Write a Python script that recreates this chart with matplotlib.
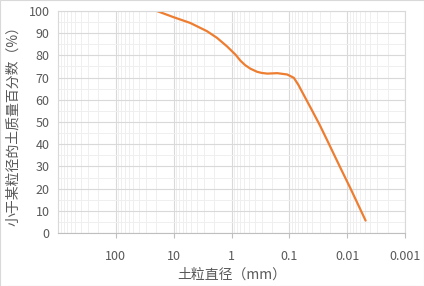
import matplotlib.pyplot as plt
import numpy as np
from matplotlib.ticker import LogLocator, FixedLocator, NullFormatter

plt.rcParams['font.family'] = ['Noto Sans CJK SC', 'DejaVu Sans']

# Kornverteilung
diam = [19.5, 10, 5.15, 2.65, 1.78, 1.2, 0.85, 0.70, 0.58, 0.47, 0.36, 0.30, 0.24,
        0.162, 0.109, 0.0836, 0.070, 0.058, 0.043, 0.030, 0.022, 0.0193, 0.013, 0.0087, 0.0048]
passing = [100, 97.2, 94.6, 90.9, 87.9, 84.1, 80.3, 77.6, 75.6, 74.0, 72.6, 72.1, 71.8,
           72.0, 71.4, 69.9, 66.8, 62.8, 56.5, 48.8, 41.6, 38.5, 29.2, 19.9, 5.6]

xticks = [100, 10, 1, 0.1, 0.01, 0.001]
xticklabels = ["100", "10", "1", "0.1", "0.01", "0.001"]
yticks = list(range(0, 101, 10))

grey = '#595959'
fig = plt.figure(figsize=(4.24, 2.86), dpi=100)
ax = fig.add_axes([58/424, 1-233/286, (405-58)/424, (233-11)/286])

ax.set_xscale('log')
ax.set_xlim(1000, 0.001)
ax.set_ylim(0, 100)

ax.xaxis.set_major_locator(FixedLocator(xticks))
ax.set_xticklabels(xticklabels)
ax.xaxis.set_minor_locator(LogLocator(base=10, subs=np.arange(2, 10), numticks=20))
ax.xaxis.set_minor_formatter(NullFormatter())
ax.set_yticks(yticks)
ax.set_yticks(range(5, 100, 10), minor=True)

ax.grid(True, which='major', color='#d9d9d9', lw=0.8)
ax.grid(True, which='minor', color='#efefef', lw=0.7)
ax.set_axisbelow(True)

ax.plot(diam, passing, color='#ED7D31', lw=1.6, solid_capstyle='round', solid_joinstyle='round')

for s in ['top', 'right', 'left']:
    ax.spines[s].set_color('#d9d9d9')
    ax.spines[s].set_linewidth(0.8)
ax.spines['bottom'].set_color('#bfbfbf')
ax.spines['bottom'].set_linewidth(0.8)

ax.tick_params(axis='x', which='major', length=3.6, color='#bfbfbf', pad=9, labelsize=9, labelcolor=grey)
ax.tick_params(axis='x', which='minor', length=0)
ax.tick_params(axis='y', which='both', length=0, pad=6, labelsize=9, labelcolor=grey)

ax.set_xlabel("土粒直径（mm）", fontsize=10, color=grey, labelpad=3)
ax.set_ylabel("小于某粒径的土质量百分数（%）", fontsize=10, color=grey, labelpad=6)

fig.patches.append(plt.Rectangle((0, 0), 1, 1, transform=fig.transFigure, fill=False,
                                 edgecolor='#d9d9d9', lw=0.8))

fig.savefig("out.png", dpi=100)
